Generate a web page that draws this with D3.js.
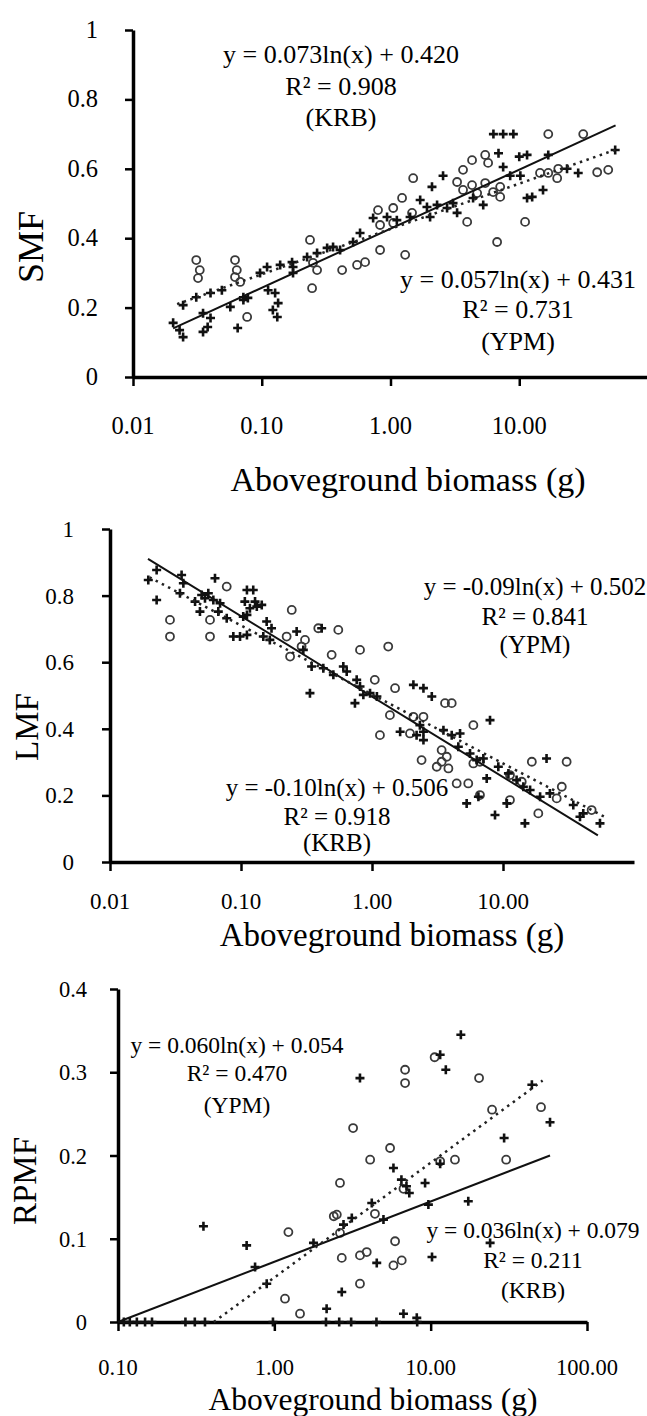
<!DOCTYPE html>
<html>
<head>
<meta charset="utf-8">
<script src="https://cdn.jsdelivr.net/npm/d3@7"></script>
<style>
  body { margin: 0; background: #fff; }
  svg { display: block; }
  text { font-family: "Liberation Serif", "Times New Roman", serif; fill: #000; }
</style>
</head>
<body>
<div id="chart"></div>
<script>
// ---- data (x = aboveground biomass in g) ----
const smfPlus = [
  [6.3, 0.70], [7.5, 0.70], [9.0, 0.70],
  [6.9, 0.645], [10.0, 0.635], [11.5, 0.64], [16.8, 0.64], [55.6, 0.654],
  [2.56, 0.58], [7.5, 0.605], [8.5, 0.58], [10.2, 0.58], [28.7, 0.588], [23.5, 0.60],
  [2.10, 0.548], [4.38, 0.516], [5.25, 0.496], [11.5, 0.516], [12.6, 0.519], [15.3, 0.539],
  [1.70, 0.51],
  [1.92, 0.49], [2.30, 0.496], [2.75, 0.487], [3.06, 0.501], [0.733, 0.458], [0.94, 0.461],
  [1.12, 0.452], [1.42, 0.461], [2.03, 0.461], [3.29, 0.473],
  [0.225, 0.346], [0.269, 0.357], [0.322, 0.372], [0.358, 0.375], [0.406, 0.366], [0.512, 0.389], [0.58, 0.415],
  [0.175, 0.30], [0.175, 0.317], [0.139, 0.323], [0.11, 0.317], [0.097, 0.30], [0.172, 0.331],
  [0.049, 0.25], [0.040, 0.242], [0.031, 0.23], [0.072, 0.23],
  [0.112, 0.25], [0.127, 0.242], [0.134, 0.213], [0.122, 0.193], [0.132, 0.173], [0.057, 0.202],
  [0.072, 0.222], [0.078, 0.228], [0.035, 0.184], [0.040, 0.17], [0.038, 0.144], [0.035, 0.13],
  [0.065, 0.141], [0.0245, 0.207], [0.0205, 0.156], [0.023, 0.135], [0.0245, 0.115]
];
const smfCircle = [
  [16.8, 0.70], [31.4, 0.70], [5.44, 0.64], [4.30, 0.625], [5.73, 0.617],
  [1.50, 0.573], [3.66, 0.597], [14.5, 0.588], [16.8, 0.588], [20.1, 0.60], [19.7, 0.573], [40.3, 0.59], [49.1, 0.597],
  [3.29, 0.562], [3.66, 0.539], [4.30, 0.553], [4.71, 0.53], [5.44, 0.559], [6.27, 0.533], [7.11, 0.548], [7.11, 0.519],
  [1.23, 0.516],
  [0.80, 0.481], [1.05, 0.487], [0.83, 0.438], [1.05, 0.444], [1.47, 0.473], [3.94, 0.447], [11.1, 0.447], [6.73, 0.389],
  [0.237, 0.395], [0.25, 0.329], [0.269, 0.308], [0.421, 0.308], [0.55, 0.323], [0.635, 0.331], [0.83, 0.366], [1.30, 0.352],
  [0.031, 0.337], [0.033, 0.308], [0.032, 0.285], [0.062, 0.337], [0.064, 0.308], [0.062, 0.288], [0.068, 0.274],
  [0.246, 0.256], [0.077, 0.173]
];

const lmfPlus = [
  [0.0227, 0.877], [0.0196, 0.847], [0.0227, 0.787], [0.0352, 0.862], [0.0363, 0.837], [0.0342, 0.807],
  [0.0633, 0.852], [0.0501, 0.802], [0.0531, 0.792], [0.0563, 0.807], [0.0615, 0.787], [0.0692, 0.777],
  [0.0671, 0.752], [0.0486, 0.752], [0.0446, 0.782],
  [0.111, 0.817], [0.124, 0.817], [0.107, 0.782], [0.128, 0.782], [0.117, 0.762], [0.104, 0.737],
  [0.132, 0.767], [0.144, 0.772], [0.111, 0.742], [0.0983, 0.677], [0.0874, 0.677], [0.111, 0.682], [0.0778, 0.732],
  [0.157, 0.722], [0.171, 0.702], [0.148, 0.677], [0.166, 0.667], [0.266, 0.692], [0.299, 0.637], [0.413, 0.702],
  [0.346, 0.587], [0.425, 0.582], [0.507, 0.562], [0.604, 0.587], [0.641, 0.572],
  [0.764, 0.547], [0.81, 0.527], [0.859, 0.502], [0.966, 0.507], [1.09, 0.497],
  [2.07, 0.532], [2.47, 0.522], [2.86, 0.497], [0.336, 0.507], [0.741, 0.477],
  [2.32, 0.411], [2.47, 0.391], [2.19, 0.381], [2.47, 0.366], [1.64, 0.391],
  [3.51, 0.396], [4.06, 0.381], [4.70, 0.386], [7.96, 0.426],
  [4.56, 0.346], [5.60, 0.326], [6.30, 0.306], [7.08, 0.311], [7.51, 0.251],
  [5.28, 0.176], [6.49, 0.196], [10.7, 0.176], [8.69, 0.141], [14.7, 0.116],
  [9.21, 0.286], [11.0, 0.266], [12.7, 0.246], [14.3, 0.226], [16.1, 0.216], [19.2, 0.196],
  [21.5, 0.311], [22.8, 0.206], [34.4, 0.171], [41.0, 0.146], [38.7, 0.136], [55.0, 0.116]
];
const lmfCircle = [
  [0.0778, 0.827], [0.0287, 0.727], [0.0287, 0.677], [0.058, 0.727], [0.058, 0.677],
  [0.244, 0.757], [0.223, 0.677], [0.237, 0.617], [0.29, 0.647], [0.308, 0.667], [0.389, 0.702],
  [0.553, 0.697], [0.492, 0.622], [0.81, 0.637], [1.33, 0.647], [1.05, 0.547], [1.50, 0.522],
  [3.61, 0.477], [4.06, 0.477], [1.37, 0.441], [2.07, 0.436], [2.47, 0.436], [1.15, 0.381], [1.95, 0.386],
  [5.94, 0.411], [3.40, 0.336], [3.72, 0.316], [3.40, 0.301], [2.39, 0.306], [3.12, 0.286], [3.83, 0.281],
  [5.94, 0.296], [6.67, 0.301], [4.43, 0.236], [5.43, 0.236], [6.67, 0.201], [11.3, 0.186], [18.6, 0.146],
  [11.3, 0.261], [13.9, 0.241], [16.6, 0.301], [30.6, 0.301], [28.1, 0.226], [25.7, 0.191], [47.5, 0.156]
];

const rpmfPlus = [
  [15.6, 0.345], [11.5, 0.321], [12.5, 0.303], [3.53, 0.293], [58, 0.240], [29.5, 0.221], [44.4, 0.285],
  [0.352, 0.115], [0.665, 0.092], [0.753, 0.066], [1.78, 0.095], [0.894, 0.046], [2.16, 0.016], [2.70, 0.036],
  [2.77, 0.117], [3.13, 0.125], [4.52, 0.071], [10.2, 0.078], [5.78, 0.185], [4.2, 0.143], [4.99, 0.123],
  [6.5, 0.171], [7.0, 0.163], [7.3, 0.155], [9.21, 0.167], [9.67, 0.141], [11.5, 0.19], [17.4, 0.145], [24, 0.095],
  [6.7, 0.010], [8.15, 0.005],
  [0.109, 0], [0.119, 0], [0.132, 0], [0.149, 0], [0.165, 0], [0.27, 0], [0.31, 0], [0.36, 0],
  [0.98, 0], [2.14, 0], [2.6, 0], [3.1, 0], [4.5, 0], [8.2, 0]
];
const rpmfCircle = [
  [10.6, 0.318], [20.4, 0.293], [6.86, 0.303], [6.86, 0.287], [24.7, 0.255], [50.8, 0.258], [3.19, 0.233],
  [1.23, 0.108], [1.17, 0.028], [1.46, 0.010], [3.53, 0.046], [2.63, 0.167], [2.51, 0.129], [2.4, 0.127],
  [2.63, 0.107], [2.70, 0.077], [3.53, 0.080], [3.9, 0.084], [5.78, 0.068], [6.53, 0.074], [5.92, 0.097],
  [4.10, 0.195], [5.50, 0.209], [4.4, 0.130], [6.7, 0.160], [11.5, 0.193], [14.3, 0.195], [30.4, 0.195]
];

// fitted log trend lines (end points as drawn): solid = KRB, dotted = YPM
const smfKrbLine = [[0.0205, 0.14], [56, 0.725]];
const smfYpmLine = [[0.022, 0.21], [56, 0.655]];
const lmfKrbLine = [[0.0195, 0.91], [53, 0.08]];
const lmfYpmLine = [[0.02, 0.855], [60, 0.135]];
const rpmfKrbLine = [[0.1, 0.0], [58, 0.2]];
const rpmfYpmLine = [[0.41, 0.0], [52, 0.29]];

// equation labels
const smfKrbText = ['y = 0.073ln(x) + 0.420', 'R² = 0.908', '(KRB)'];
const smfYpmText = ['y = 0.057ln(x) + 0.431', 'R² = 0.731', '(YPM)'];
const lmfYpmText = ['y = -0.09ln(x) + 0.502', 'R² = 0.841', '(YPM)'];
const lmfKrbText = ['y = -0.10ln(x) + 0.506', 'R² = 0.918', '(KRB)'];
const rpmfYpmText = ['y = 0.060ln(x) + 0.054', 'R² = 0.470', '(YPM)'];
const rpmfKrbText = ['y = 0.036ln(x) + 0.079', 'R² = 0.211', '(KRB)'];

// ticks
const fracTicks = [0, 0.2, 0.4, 0.6, 0.8, 1];
const fracTickLabels = ['0', '0.2', '0.4', '0.6', '0.8', '1'];
const rpmfTicks = [0, 0.1, 0.2, 0.3, 0.4];
const rpmfTickLabels = ['0', '0.1', '0.2', '0.3', '0.4'];
const massTicksA = [0.01, 0.1, 1, 10];
const massTickLabelsA = ['0.01', '0.10', '1.00', '10.00'];
const massTicksB = [0.1, 1, 10, 100];
const massTickLabelsB = ['0.10', '1.00', '10.00', '100.00'];

const xTitle = 'Aboveground biomass (g)';

const svg = d3.select('#chart').append('svg')
  .attr('width', 647)
  .attr('height', 1416);
svg.append('rect').attr('width', 647).attr('height', 1416).attr('fill', '#fff');

function drawPanel(p) {
  const x = d3.scaleLog().domain(p.xDomain).range(p.xRange);
  const y = d3.scaleLinear().domain(p.yDomain).range(p.yRange);
  const g = svg.append('g');

  // axes
  const xAxis = g.append('g')
    .attr('transform', 'translate(0,' + p.yRange[0] + ')')
    .call(d3.axisBottom(x).tickValues(p.xTicks).tickSize(9).tickSizeOuter(0).tickFormat(''));
  const yAxis = g.append('g')
    .attr('transform', 'translate(' + p.xRange[0] + ',0)')
    .call(d3.axisLeft(y).tickValues(p.yTicks).tickSize(8).tickSizeOuter(0).tickFormat(''));
  [xAxis, yAxis].forEach(a => {
    a.select('.domain').attr('stroke', '#000').attr('stroke-width', 3.5);
    a.selectAll('.tick line').attr('stroke', '#000').attr('stroke-width', 2.5);
  });

  // tick labels
  g.selectAll('.xl').data(p.xTicks).enter().append('text')
    .attr('x', d => x(d))
    .attr('y', p.yRange[0] + p.xLabelOffset)
    .attr('text-anchor', 'middle')
    .style('font-size', p.tickFont + 'px')
    .text((d, i) => p.xTickLabels[i]);
  g.selectAll('.yl').data(p.yTicks).enter().append('text')
    .attr('x', p.yLabelRight)
    .attr('y', d => y(d) + 8)
    .attr('text-anchor', 'end')
    .style('font-size', p.tickFont + 'px')
    .text((d, i) => p.yTickLabels[i]);

  // axis titles
  g.append('text')
    .attr('x', p.xTitlePos[0])
    .attr('y', p.xTitlePos[1])
    .attr('text-anchor', 'middle')
    .style('font-size', p.xTitleFont + 'px')
    .text(xTitle);
  g.append('text')
    .attr('transform', 'translate(' + p.yTitlePos[0] + ',' + p.yTitlePos[1] + ') rotate(-90)')
    .attr('text-anchor', 'middle')
    .attr('dy', '0.35em')
    .style('font-size', p.yTitleFont + 'px')
    .text(p.yTitle);

  // points
  g.append('g').selectAll('circle')
    .data(p.circles)
    .enter()
    .append('circle')
    .attr('cx', d => x(d[0]))
    .attr('cy', d => y(d[1]))
    .attr('r', 4)
    .attr('fill', 'none')
    .attr('stroke', '#3a3a3a')
    .attr('stroke-width', 1.8);
  g.append('g').selectAll('path')
    .data(p.pluses)
    .enter()
    .append('path')
    .attr('transform', d => 'translate(' + x(d[0]) + ',' + y(d[1]) + ')')
    .attr('d', 'M-4.5,0H4.5M0,-4.5V4.5')
    .attr('stroke', '#111')
    .attr('stroke-width', 2.6);

  // trend lines
  const line = d3.line().x(d => x(d[0])).y(d => y(d[1]));
  g.append('path').datum(p.krbLine)
    .attr('d', line)
    .attr('fill', 'none')
    .attr('stroke', '#111')
    .attr('stroke-width', 2);
  g.append('path').datum(p.ypmLine)
    .attr('d', line)
    .attr('fill', 'none')
    .attr('stroke', '#222')
    .attr('stroke-width', 2.5)
    .attr('stroke-dasharray', '2.5,4.5');

  // equations
  p.labels.forEach(lb => {
    lb.text.forEach((t, i) => {
      g.append('text')
        .attr('x', lb.x)
        .attr('y', lb.ys[i] + 8)
        .attr('text-anchor', 'middle')
        .style('font-size', p.eqFont + 'px')
        .text(t);
    });
  });
}

drawPanel({
  xDomain: [0.01, 100], xRange: [133, 648],
  yDomain: [0, 1], yRange: [377, 30],
  xTicks: massTicksA, xTickLabels: massTickLabelsA,
  yTicks: fracTicks, yTickLabels: fracTickLabels,
  tickFont: 24.5, eqFont: 26, xTitleFont: 34, yTitleFont: 36,
  xLabelOffset: 57, yLabelRight: 98,
  xTitlePos: [408, 491], yTitlePos: [30, 247], yTitle: 'SMF',
  pluses: smfPlus, circles: smfCircle,
  krbLine: smfKrbLine, ypmLine: smfYpmLine,
  labels: [
    { text: smfKrbText, x: 341, ys: [55, 87, 118] },
    { text: smfYpmText, x: 518, ys: [280, 310, 342] }
  ]
});

drawPanel({
  xDomain: [0.01, 100], xRange: [110, 634],
  yDomain: [0, 1], yRange: [862, 529],
  xTicks: massTicksA, xTickLabels: massTickLabelsA,
  yTicks: fracTicks, yTickLabels: fracTickLabels,
  tickFont: 23, eqFont: 25, xTitleFont: 33, yTitleFont: 33,
  xLabelOffset: 47, yLabelRight: 74,
  xTitlePos: [392, 946], yTitlePos: [26, 727], yTitle: 'LMF',
  pluses: lmfPlus, circles: lmfCircle,
  krbLine: lmfKrbLine, ypmLine: lmfYpmLine,
  labels: [
    { text: lmfYpmText, x: 535, ys: [587, 617, 645] },
    { text: lmfKrbText, x: 337, ys: [788, 817, 843] }
  ]
});

drawPanel({
  xDomain: [0.1, 100], xRange: [118, 587],
  yDomain: [0, 0.4], yRange: [1322, 989],
  xTicks: massTicksB, xTickLabels: massTickLabelsB,
  yTicks: rpmfTicks, yTickLabels: rpmfTickLabels,
  tickFont: 22.5, eqFont: 23.5, xTitleFont: 31.5, yTitleFont: 33,
  xLabelOffset: 53, yLabelRight: 87,
  xTitlePos: [373, 1410], yTitlePos: [24, 1181], yTitle: 'RPMF',
  pluses: rpmfPlus, circles: rpmfCircle,
  krbLine: rpmfKrbLine, ypmLine: rpmfYpmLine,
  labels: [
    { text: rpmfYpmText, x: 237, ys: [1045, 1073, 1105] },
    { text: rpmfKrbText, x: 533, ys: [1230, 1260, 1290] }
  ]
});
</script>
</body>
</html>
